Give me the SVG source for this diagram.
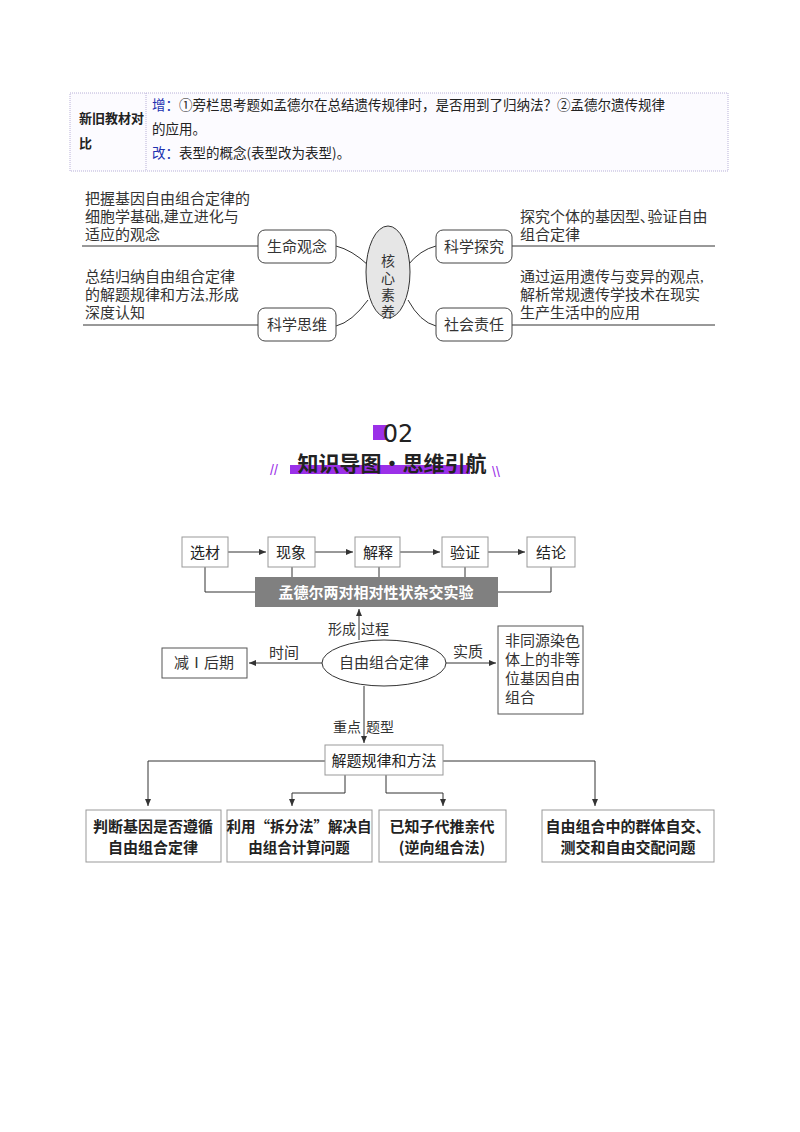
<svg xmlns="http://www.w3.org/2000/svg" width="800" height="1132" viewBox="0 0 800 1132">
<defs>
<style>
.s{font-family:"Liberation Serif","Noto Sans CJK SC",serif;fill:#333}
.h{font-family:"Noto Sans CJK SC",sans-serif;fill:#222}
.b{fill:#fff;stroke:#444;stroke-width:1}
.fb{fill:#fff;stroke:#999;stroke-width:1}
.l{stroke:#333;stroke-width:1;fill:none}
</style>
<marker id="a" markerWidth="8" markerHeight="8" refX="7" refY="4" orient="auto" markerUnits="userSpaceOnUse"><path d="M0,1 L7,4 L0,7 z" fill="#333"/></marker>
</defs>
<rect width="800" height="1132" fill="#fff"/>
<g id="table">
<rect x="70" y="93" width="658" height="78" fill="#fcfbff" stroke="#b8b0d8" stroke-dasharray="1,1"/>
<line x1="146" y1="93" x2="146" y2="171" stroke="#b8b0d8" stroke-dasharray="1,1"/>
<text class="h" x="79" y="123" font-size="13" font-weight="bold">新旧教材对</text>
<text class="h" x="79" y="148" font-size="13" font-weight="bold">比</text>
<text class="h" x="152" y="110" font-size="13.5"><tspan fill="#2030b0">增：</tspan>①旁栏思考题如孟德尔在总结遗传规律时，是否用到了归纳法？②孟德尔遗传规律</text>
<text class="h" x="152" y="134" font-size="13.5">的应用。</text>
<text class="h" x="152" y="158" font-size="13.5"><tspan fill="#2030b0">改：</tspan>表型的概念(表型改为表型)。</text>
</g>
<g id="core">
<g class="l" stroke-width="1.3">
<line x1="82" y1="246" x2="258" y2="246"/><line x1="83" y1="325" x2="258" y2="325"/>
<line x1="512" y1="246" x2="715" y2="246"/><line x1="512" y1="325" x2="715" y2="325"/>
<path d="M336,246 Q352,250 368,265"/><path d="M336,326 Q352,322 368,300"/>
<path d="M436,246 Q420,250 408,265"/><path d="M436,326 Q420,322 408,300"/>
</g>
<ellipse cx="388" cy="272" rx="22" ry="46" fill="#e6e6e6" stroke="#333"/>
<text class="s" x="388" y="266" font-size="14" text-anchor="middle">核</text>
<text class="s" x="388" y="283" font-size="14" text-anchor="middle">心</text>
<text class="s" x="388" y="300" font-size="14" text-anchor="middle">素</text>
<text class="s" x="388" y="317" font-size="14" text-anchor="middle">养</text>
<rect x="258" y="230" width="78" height="33" rx="7" class="b"/><text class="s" x="297" y="252" font-size="15" text-anchor="middle">生命观念</text>
<rect x="258" y="308" width="78" height="33" rx="7" class="b"/><text class="s" x="297" y="330" font-size="15" text-anchor="middle">科学思维</text>
<rect x="436" y="230" width="76" height="33" rx="7" class="b"/><text class="s" x="474" y="252" font-size="15" text-anchor="middle">科学探究</text>
<rect x="436" y="308" width="76" height="33" rx="7" class="b"/><text class="s" x="474" y="330" font-size="15" text-anchor="middle">社会责任</text>
<text class="s" font-size="15"><tspan x="85" y="204">把握基因自由组合定律的</tspan><tspan x="85" y="222">细胞学基础,建立进化与</tspan><tspan x="85" y="240">适应的观念</tspan></text>
<text class="s" font-size="15"><tspan x="85" y="282">总结归纳自由组合定律</tspan><tspan x="85" y="300">的解题规律和方法,形成</tspan><tspan x="85" y="318">深度认知</tspan></text>
<text class="s" font-size="15"><tspan x="520" y="222">探究个体的基因型､验证自由</tspan><tspan x="520" y="240">组合定律</tspan></text>
<text class="s" font-size="15"><tspan x="520" y="282">通过运用遗传与变异的观点,</tspan><tspan x="520" y="300">解析常规遗传学技术在现实</tspan><tspan x="520" y="318">生产生活中的应用</tspan></text>
</g>
<g id="title">
<rect x="373" y="425" width="14" height="15" fill="#9b30e8"/>
<text x="398" y="442" font-family="DejaVu Sans, sans-serif" font-size="24" text-anchor="middle" fill="#222">02</text>
<rect x="290" y="465" width="180" height="9" fill="#9b30e8"/>
<text class="h" x="392" y="471" font-size="21" font-weight="bold" text-anchor="middle" fill="#111">知识导图·思维引航</text>
<text x="270" y="475" font-family="Liberation Sans,sans-serif" font-size="14" fill="#9b30e8">//</text>
<text x="492" y="477" font-family="Liberation Sans,sans-serif" font-size="14" fill="#9b30e8">\\</text>
</g>
<g id="connectors" class="l">
<line x1="228" y1="552" x2="266" y2="552" marker-end="url(#a)"/>
<line x1="315" y1="552" x2="353" y2="552" marker-end="url(#a)"/>
<line x1="400" y1="552" x2="440" y2="552" marker-end="url(#a)"/>
<line x1="488" y1="552" x2="525" y2="552" marker-end="url(#a)"/>
<polyline points="205,567 205,592 255,592"/>
<line x1="292" y1="567" x2="292" y2="577"/>
<line x1="379" y1="567" x2="379" y2="577"/>
<line x1="465" y1="567" x2="465" y2="577"/>
<polyline points="551,567 551,592 498,592"/>
<line x1="359" y1="640" x2="359" y2="609" marker-end="url(#a)"/>
<line x1="322" y1="663" x2="249" y2="663" marker-end="url(#a)"/>
<line x1="446" y1="663" x2="496" y2="663" marker-end="url(#a)"/>
<line x1="364" y1="686" x2="364" y2="743" marker-end="url(#a)"/>
<polyline points="325,761 148,761 148,806" marker-end="url(#a)"/>
<polyline points="443,761 595,761 595,806" marker-end="url(#a)"/>
<polyline points="345,775 345,793 292,793 292,806" marker-end="url(#a)"/>
<polyline points="386,775 386,793 443,793 443,806" marker-end="url(#a)"/>
</g>
<g id="flow">
<rect x="182" y="537" width="46" height="30" class="fb"/><text class="h" x="205" y="558" text-anchor="middle" font-size="15">选材</text>
<rect x="268" y="537" width="47" height="30" class="fb"/><text class="h" x="291" y="558" text-anchor="middle" font-size="15">现象</text>
<rect x="355" y="537" width="45" height="30" class="fb"/><text class="h" x="378" y="558" text-anchor="middle" font-size="15">解释</text>
<rect x="442" y="537" width="46" height="30" class="fb"/><text class="h" x="465" y="558" text-anchor="middle" font-size="15">验证</text>
<rect x="527" y="537" width="48" height="30" class="fb"/><text class="h" x="551" y="558" text-anchor="middle" font-size="15">结论</text>
<rect x="255" y="577" width="243" height="30" fill="#808080"/><text class="h" x="376" y="598" text-anchor="middle" font-size="15" font-weight="bold" style="fill:#fff">孟德尔两对相对性状杂交实验</text>
<text class="s" x="328" y="634" font-size="14">形成</text><text class="s" x="361" y="634" font-size="14">过程</text>
<ellipse cx="384" cy="663" rx="62" ry="23" fill="#fff" stroke="#333"/><text class="s" x="384" y="668" text-anchor="middle" font-size="15">自由组合定律</text>
<rect x="162" y="648" width="85" height="30" fill="#fff" stroke="#555"/><text class="s" x="204" y="668" text-anchor="middle" font-size="15">减Ⅰ后期</text>
<text class="s" x="284" y="658" text-anchor="middle" font-size="15">时间</text>
<text class="s" x="468" y="657" text-anchor="middle" font-size="15">实质</text>
<rect x="498" y="626" width="85" height="88" fill="#fff" stroke="#555"/>
<text class="s" font-size="15"><tspan x="505" y="646">非同源染色</tspan><tspan x="505" y="665">体上的非等</tspan><tspan x="505" y="684">位基因自由</tspan><tspan x="505" y="703">组合</tspan></text>
<text class="s" x="333" y="732" font-size="14">重点</text><text class="s" x="366" y="732" font-size="14">题型</text>
<rect x="325" y="745" width="118" height="30" class="fb"/><text class="h" x="384" y="766" text-anchor="middle" font-size="15">解题规律和方法</text>
</g>
<g id="bottom">
<rect x="86" y="810" width="135" height="52" class="fb"/><text class="h" font-size="15" font-weight="bold" text-anchor="middle"><tspan x="153" y="832">判断基因是否遵循</tspan><tspan x="153" y="853">自由组合定律</tspan></text>
<rect x="227" y="810" width="145" height="52" class="fb"/><text class="h" font-size="14.5" font-weight="bold" text-anchor="middle"><tspan x="299" y="832">利用“拆分法”解决自</tspan><tspan x="299" y="853">由组合计算问题</tspan></text>
<rect x="379" y="810" width="127" height="52" class="fb"/><text class="h" font-size="15" font-weight="bold" text-anchor="middle"><tspan x="442" y="832">已知子代推亲代</tspan><tspan x="442" y="853">(逆向组合法)</tspan></text>
<rect x="542" y="810" width="172" height="52" class="fb"/><text class="h" font-size="15" font-weight="bold" text-anchor="middle"><tspan x="628" y="832">自由组合中的群体自交、</tspan><tspan x="628" y="853">测交和自由交配问题</tspan></text>
</g>
</svg>
